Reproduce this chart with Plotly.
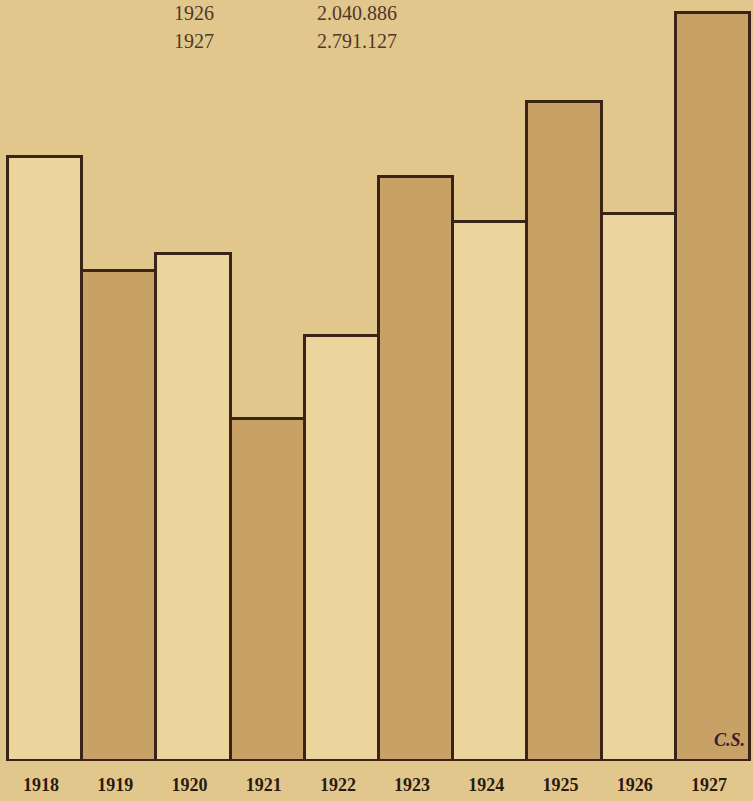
import plotly.graph_objects as go

years = ["1918", "1919", "1920", "1921", "1922", "1923", "1924", "1925", "1926", "1927"]
values = [2254000, 1828000, 1892000, 1276000, 1586000, 2179000, 2011000, 2459000, 2040886, 2791127]
table_years = ["1926", "1927"]
table_values = ["2.040.886", "2.791.127"]

BG = "#E2C78D"
LIGHT = "#ECD59D"
DARK = "#C7A165"
INK = "#3A2418"

fills = [LIGHT if i % 2 == 0 else DARK for i in range(len(years))]
xs = list(range(len(years)))

fig = go.Figure()
fig.add_trace(go.Bar(
    x=xs, y=values, width=1.0,
    marker=dict(color=fills, line=dict(color=INK, width=3)),
    hoverinfo="skip",
))

ymax = values[-1] * 756 / 748
fig.update_layout(
    width=753, height=801,
    paper_bgcolor=BG, plot_bgcolor=BG,
    margin=dict(l=4, r=0, t=5, b=40),
    bargap=0, showlegend=False,
    xaxis=dict(range=[-0.554, 9.54], tickvals=xs, ticktext=["<b>%s</b>" % y for y in years],
               showgrid=False, zeroline=False, showline=False,
               ticks="outside", ticklen=7, tickcolor=BG, ticklabelshift=-4,
               tickfont=dict(family="Liberation Serif", size=18, color="#2A1A10")),
    yaxis=dict(range=[0, ymax], visible=False, showgrid=False, zeroline=False),
)

for i, (yr, val) in enumerate(zip(table_years, table_values)):
    yy = 1 - (8 + 27.5 * i) / 756
    fig.add_annotation(xref="paper", yref="paper", x=(194 - 4) / 749, y=yy,
                       text=yr, showarrow=False, xanchor="center", yanchor="middle",
                       font=dict(family="Liberation Serif", size=20, color="#4E3828"))
    fig.add_annotation(xref="paper", yref="paper", x=(315 - 4) / 749, y=yy,
                       text=val, showarrow=False, xanchor="left", yanchor="middle",
                       font=dict(family="Liberation Serif", size=20, color="#4E3828"))

fig.add_annotation(xref="paper", yref="paper", x=(747 - 4) / 749, y=(761 - 740) / 756,
                   text="<b><i>C.S.</i></b>", showarrow=False, xanchor="right", yanchor="middle",
                   font=dict(family="Liberation Serif", size=18, color="#3A1A30"))

fig.write_html("out.html", config={"displayModeBar": False},
               post_script="document.body.style.margin='0';document.body.style.overflow='hidden';document.body.style.background='%s';" % BG)
